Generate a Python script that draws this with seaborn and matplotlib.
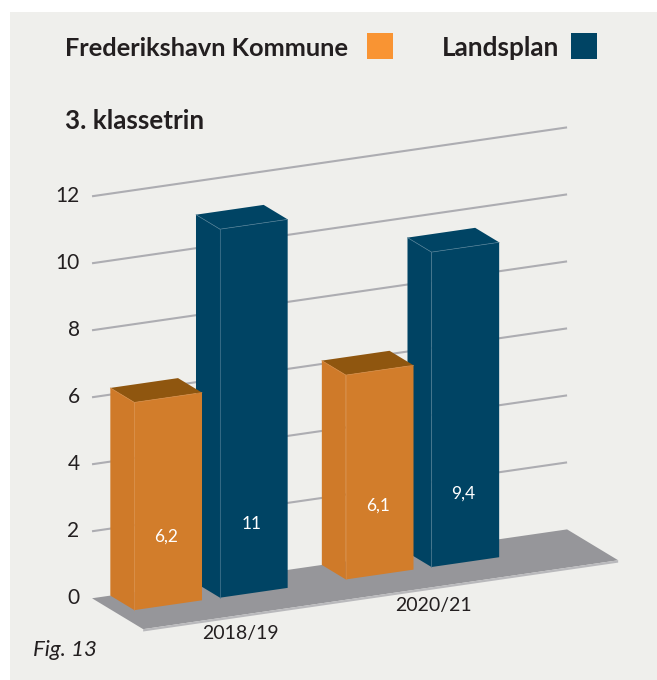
import matplotlib
matplotlib.use("Agg")
import matplotlib.pyplot as plt
from matplotlib.patches import Rectangle
from matplotlib.transforms import Affine2D
import pandas as pd
import seaborn as sns

# Data
years = ["2018/19", "2020/21"]
series = ["Landsplan", "Frederikshavn Kommune"]
landsplan = [11, 9.4]
frederikshavn = [6.2, 6.1]
value_ticks = [0, 2, 4, 6, 8, 10, 12]

# Colours
panel = "#EFEFEC"
ink = "#231F20"
front_colors = {"Landsplan": "#004464", "Frederikshavn Kommune": "#D27D2B"}
top_colors = {"Landsplan": "#004464", "Frederikshavn Kommune": "#8F560F"}
side_colors = {"Landsplan": "#004363", "Frederikshavn Kommune": "#CF7A29"}
edge_colors = {"Landsplan": "#4A7A92", "Frederikshavn Kommune": "#D98B42"}
legend_colors = {"Landsplan": "#004464", "Frederikshavn Kommune": "#F99433"}

# Size of the fake 3D: pixels per category / value, shear and bar depth
W, H = 657, 680
px_x, px_v = 211.5, 33.5
zero_px, zero_py = 211, 599
shear = 0.145 * px_x / px_v
depth_x, depth_v = -24 / px_x, 14.5 / px_v
floor_front = -1.13


def project(x, v, d=0):
    return x + d * depth_x, v + shear * x + d * depth_v


def label(px, py, text, **kw):
    kw.setdefault("color", ink)
    fig.text(px / W, 1 - py / H, text, **kw)


sns.set_theme(style="white")
plt.rcParams["font.family"] = ["Lato", "DejaVu Sans"]

fig = plt.figure(figsize=(W / 100, H / 100), dpi=100, facecolor="white")
ax = fig.add_axes([10 / W, 0, (W - 10) / W, (H - 12) / H])
ax.set_facecolor(panel)

df = pd.DataFrame({
    "year": years * 2,
    "series": [series[0]] * 2 + [series[1]] * 2,
    "value": landsplan + frederikshavn,
})
sns.barplot(data=df, x="year", y="value", hue="series", hue_order=[series[1], series[0]],
            palette=front_colors, saturation=1, width=0.81, gap=0.21, legend=False,
            linewidth=0, ax=ax)
ax.set(xlabel="", ylabel="", xticks=[], yticks=[])
ax.set_xlim((10 - zero_px) / px_x, (W - zero_px) / px_x)
ax.set_ylim((zero_py - H) / px_v, (zero_py - 12) / px_v)
sns.despine(ax=ax, left=True, bottom=True)

# Floor and back wall lines
x_left, x_right = -0.449, 1.797
floor = [project(x_left, 0, 1), project(x_right, 0, 1),
         project(x_right, 0, floor_front), project(x_left, 0, floor_front)]
rim = [project(x_left, 0, floor_front), project(x_right, 0, floor_front),
       project(x_right, -0.07, floor_front), project(x_left, -0.07, floor_front)]
ax.fill(*zip(*floor), color="#96969A", lw=0, zorder=1)
ax.fill(*zip(*rim), color="#B9B9BC", lw=0, zorder=1)
for tick in value_ticks[1:]:
    ax.plot(*zip(project(x_left, tick, 1), project(x_right, tick, 1)),
            color="#ADADB2", lw=1.5, zorder=2, solid_capstyle="butt")

# Bars: seaborn draws the front faces, sides and tops are built from them
skew = Affine2D.from_values(1, shear, 0, 1, 0, 0)
for container, name, z in zip(ax.containers, [series[1], series[0]], [5, 4]):
    for bar in container:
        bar.set_transform(skew + ax.transData)
        bar.set_zorder(z)
        x0, x1, v = bar.get_x(), bar.get_x() + bar.get_width(), bar.get_height()
        side = [project(x0, 0), project(x0, v), project(x0, v, 1), project(x0, 0, 1)]
        top = [project(x0, v), project(x1, v), project(x1, v, 1), project(x0, v, 1)]
        ax.fill(*zip(*side), color=side_colors[name], lw=0, zorder=z)
        ax.fill(*zip(*top), color=top_colors[name], lw=0, zorder=z)
        for p, q in [(project(x0, 0), project(x0, v)), (project(x0, v), project(x1, v)),
                     (project(x0, v), project(x0, v, 1))]:
            ax.plot(*zip(p, q), color=edge_colors[name], lw=0.5, zorder=z + 0.5)
        text = f"{v:g}".replace(".", ",")
        lx, ly = project((x0 + x1) / 2, 2.05)
        ax.annotate(text, (lx, ly), xytext=(-1.5, 0), textcoords="offset points", color="white",
                    fontsize=12.5, ha="center", va="center", zorder=z + 1)

# Value labels next to the wall
for tick in value_ticks:
    lx, ly = project(x_left, tick, 1)
    ax.annotate(str(tick), (lx, ly), xytext=(-9, 0.5), textcoords="offset points",
                color=ink, fontsize=15, ha="right", va="center")

label(240, 634, years[0], fontsize=14, ha="center", va="center")
label(433, 606, years[1], fontsize=14, ha="center", va="center")
label(33, 650, "Fig. 13", fontsize=16, style="italic", ha="left", va="center")
label(65, 121, "3. klassetrin", fontsize=18.7, weight="bold", ha="left", va="center")

# Legend
label(65, 48, series[1], fontsize=18.3, weight="bold", ha="left", va="center")
label(442, 48, series[0], fontsize=18.8, weight="bold", ha="left", va="center")
for name, left in zip([series[1], series[0]], [367, 571]):
    fig.add_artist(Rectangle((left / W, 1 - 59 / H), 26 / W, 26 / H,
                             transform=fig.transFigure, color=legend_colors[name], lw=0))

fig.savefig("out.png", dpi=100)
